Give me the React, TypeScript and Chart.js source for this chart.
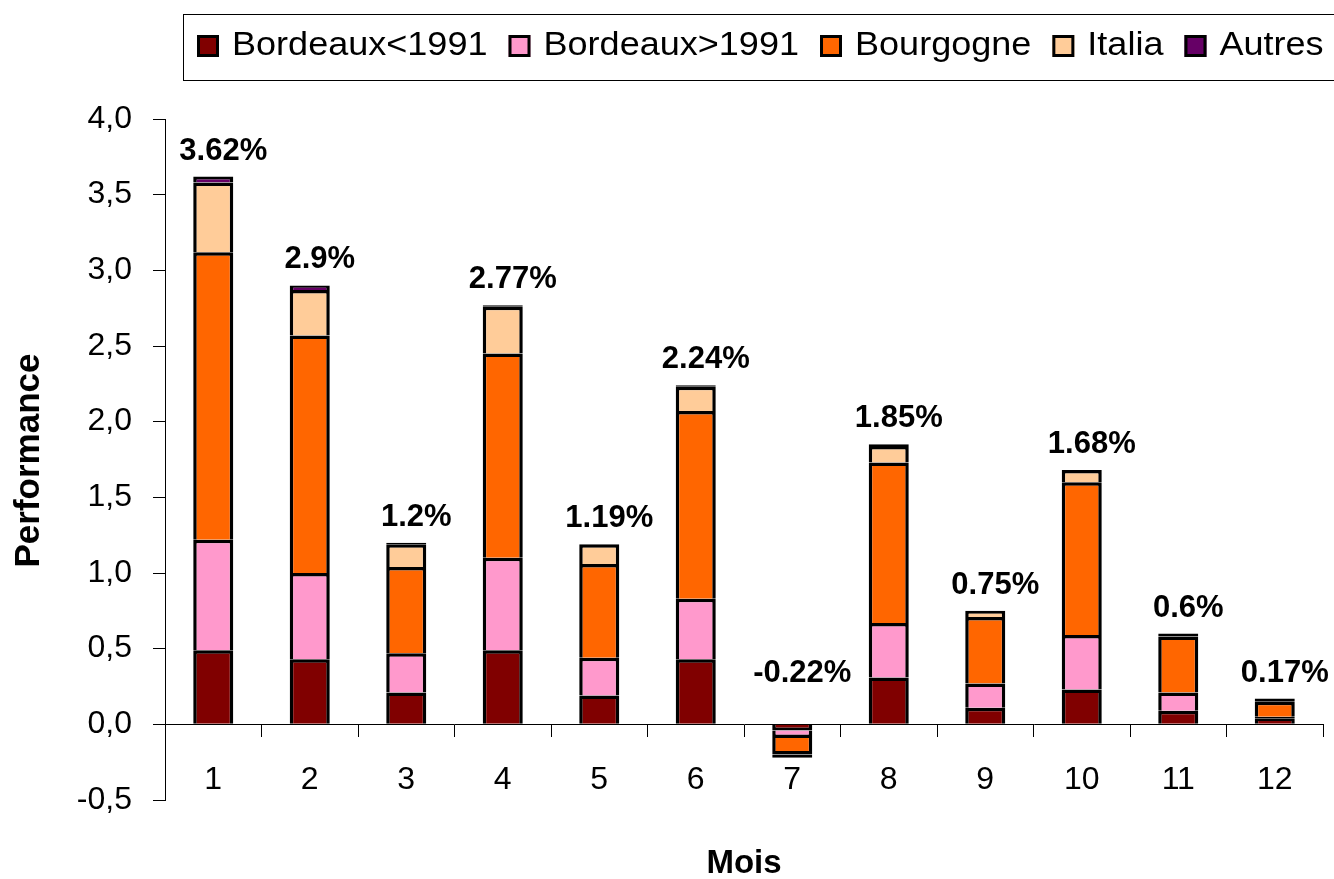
import React, { useEffect, useRef } from 'react';
import { Chart, registerables } from 'chart.js';

Chart.register(...registerables);

const months = ['1', '2', '3', '4', '5', '6', '7', '8', '9', '10', '11', '12'];
const bordeauxAvant1991 = [0.49, 0.43, 0.21, 0.49, 0.19, 0.43, -0.04, 0.31, 0.11, 0.23, 0.09, 0.04];
const bordeauxApres1991 = [0.73, 0.57, 0.26, 0.61, 0.25, 0.4, -0.05, 0.36, 0.16, 0.36, 0.12, 0.01];
const bourgogne = [1.9, 1.57, 0.57, 1.35, 0.62, 1.24, -0.11, 1.06, 0.44, 1.01, 0.37, 0.1];
const italia = [0.46, 0.3, 0.15, 0.31, 0.13, 0.16, -0.01, 0.11, 0.04, 0.08, 0.01, 0.01];
const autres = [0.04, 0.03, 0.01, 0.01, 0.0, 0.01, -0.01, 0.01, 0.0, 0.0, 0.01, 0.01];
const totalPerformance = [3.62, 2.9, 1.2, 2.77, 1.19, 2.24, -0.22, 1.85, 0.75, 1.68, 0.6, 0.17];
const yTickValues = [-0.5, 0, 0.5, 1, 1.5, 2, 2.5, 3, 3.5, 4];
const seriesNames = ['Bordeaux<1991', 'Bordeaux>1991', 'Bourgogne', 'Italia', 'Autres'];
const seriesColors = ['#800000', '#FF99CC', '#FF6600', '#FFCC99', '#660066'];

const FONT = "'Liberation Sans', Arial, sans-serif";

const legendPlugin = {
  id: 'customLegend',
  afterDraw(chart: any) {
    const ctx = chart.ctx;
    ctx.save();
    ctx.strokeStyle = '#000';
    ctx.lineWidth = 1;
    ctx.strokeRect(183.5, 14.5, 1200, 66);
    let x = 197;
    const sq = 22;
    const yTop = 35;
    ctx.font = `34px ${FONT}`;
    ctx.textBaseline = 'alphabetic';
    ctx.textAlign = 'left';
    const sx = 1.06;
    chart.data.datasets.forEach((ds: any) => {
      ctx.fillStyle = ds.backgroundColor;
      ctx.fillRect(x, yTop, sq, sq);
      ctx.lineWidth = 3;
      ctx.strokeStyle = '#000';
      ctx.strokeRect(x + 1.5, yTop + 1.5, sq - 3, sq - 3);
      const tx = x + sq + 13;
      const w = ctx.measureText(ds.label).width * sx;
      ctx.save();
      ctx.translate(tx, 55);
      ctx.scale(sx, 1);
      ctx.fillStyle = '#000';
      ctx.fillText(ds.label, 0, 0);
      ctx.restore();
      x = tx + w + 21;
    });
    ctx.restore();
  },
};

const labelsPlugin = {
  id: 'totalLabels',
  afterDatasetsDraw(chart: any) {
    const ctx = chart.ctx;
    const xs = chart.scales.x;
    const ys = chart.scales.y;
    ctx.save();
    ctx.font = `bold 31px ${FONT}`;
    ctx.fillStyle = '#000';
    ctx.textAlign = 'center';
    ctx.textBaseline = 'alphabetic';
    totalPerformance.forEach((v, i) => {
      const x = xs.getPixelForValue(i) + 10;
      const top = ys.getPixelForValue(Math.max(v, 0));
      const gap = v < 0 ? 42 : 17;
      ctx.fillText(`${v}%`, x, top - gap);
    });
    ctx.restore();
  },
};

const titlesPlugin = {
  id: 'axisTitles',
  afterDraw(chart: any) {
    const ctx = chart.ctx;
    const area = chart.chartArea;
    ctx.save();
    ctx.fillStyle = '#000';
    ctx.textAlign = 'center';
    ctx.textBaseline = 'middle';
    ctx.font = `bold 35px ${FONT}`;
    ctx.translate(29, (area.top + area.bottom) / 2 + 1);
    ctx.rotate(-Math.PI / 2);
    ctx.fillText('Performance', 0, 0);
    ctx.restore();
    ctx.save();
    ctx.fillStyle = '#000';
    ctx.textAlign = 'center';
    ctx.textBaseline = 'middle';
    ctx.font = `bold 33px ${FONT}`;
    ctx.fillText('Mois', (area.left + area.right) / 2, 864);
    ctx.restore();
  },
};

export default function App() {
  const ref = useRef<HTMLCanvasElement | null>(null);

  useEffect(() => {
    if (!ref.current) return;
    const seriesData = [bordeauxAvant1991, bordeauxApres1991, bourgogne, italia, autres];
    const chart = new Chart(ref.current, {
      type: 'bar',
      data: {
        labels: months,
        datasets: seriesData.map((d, k) => ({
          label: seriesNames[k],
          data: d,
          backgroundColor: seriesColors[k],
          borderColor: '#000',
          borderWidth: 3.5,
          borderSkipped: (c: any) => (Math.abs(c.raw) < 0.025 ? false : 'start'),
          categoryPercentage: 0.415,
          barPercentage: 1,
        })),
      },
      options: {
        animation: false,
        responsive: true,
        maintainAspectRatio: false,
        layout: { padding: { left: 0, top: 119, right: 11, bottom: 79 } },
        plugins: {
          legend: { display: false },
          tooltip: { enabled: false },
          title: { display: false },
        },
        scales: {
          x: {
            stacked: true,
            position: { y: 0 } as any,
            afterFit: (s: any) => {
              s.height = 0;
            },
            grid: {
              display: true,
              drawOnChartArea: false,
              drawTicks: true,
              tickLength: 12,
              color: '#000',
              lineWidth: 1,
              offset: true,
            },
            border: { display: true, color: '#000', width: 1 },
            ticks: {
              color: '#000',
              font: { family: FONT, size: 32 },
              padding: 25,
              maxRotation: 0,
              autoSkip: false,
            },
          },
          y: {
            stacked: true,
            position: 'left',
            min: -0.5,
            max: 4,
            afterFit: (s: any) => {
              s.width = 165;
            },
            afterBuildTicks: (s: any) => {
              s.ticks = yTickValues.map((v) => ({ value: v }));
            },
            grid: {
              display: true,
              drawOnChartArea: false,
              drawTicks: true,
              tickLength: 12,
              color: '#000',
              lineWidth: 1,
            },
            border: { display: true, color: '#000', width: 1 },
            ticks: {
              color: '#000',
              font: { family: FONT, size: 32 },
              padding: 21,
              callback: (v: any) => Number(v).toFixed(1).replace('.', ','),
            },
          },
        },
      },
      plugins: [legendPlugin, labelsPlugin, titlesPlugin],
    });
    return () => chart.destroy();
  }, []);

  return (
    <div
      style={{
        position: 'absolute',
        left: 0,
        top: 0,
        width: 1334,
        height: 879,
        background: '#fff',
      }}
    >
      <canvas ref={ref} />
    </div>
  );
}
